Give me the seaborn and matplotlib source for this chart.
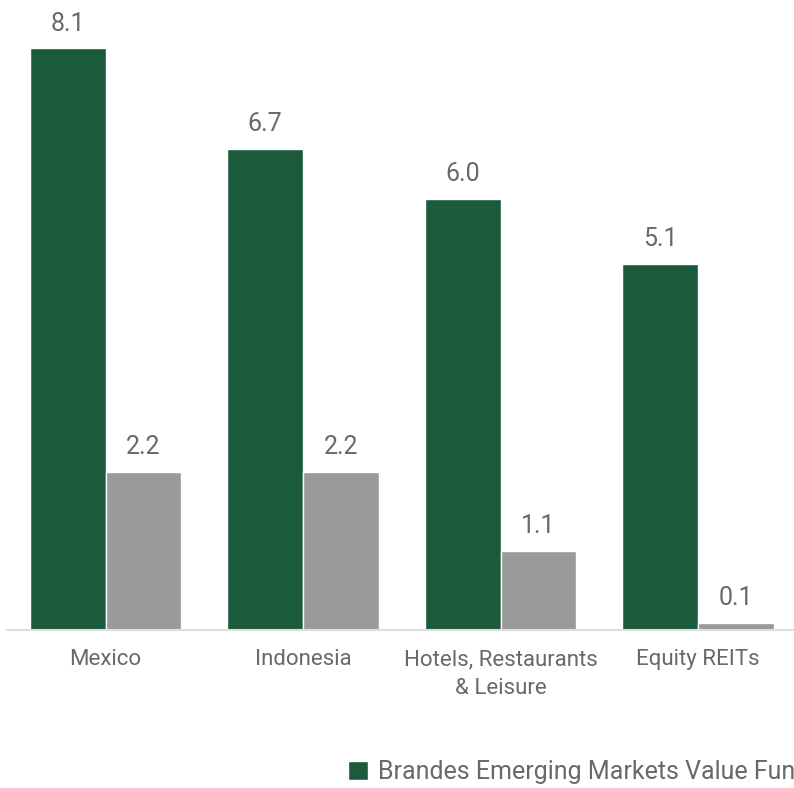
import seaborn as sns
import matplotlib.pyplot as plt
import pandas as pd

categories = ["Mexico", "Indonesia", "Hotels, Restaurants\n& Leisure", "Equity REITs"]
fund_values = [8.1, 6.7, 6.0, 5.1]
index_values = [2.2, 2.2, 1.1, 0.1]
series_names = ["Brandes Emerging Markets Value Fund", "MSCI Emerging Markets Index"]

df = pd.DataFrame({
    "category": categories * 2,
    "value": fund_values + index_values,
    "series": [series_names[0]] * 4 + [series_names[1]] * 4,
})

sns.set_style("white")
plt.rcParams['font.family'] = ['Roboto', 'DejaVu Sans']
text_color = "#68696c"

fig = plt.figure(figsize=(7.94, 7.88), dpi=100)
ax = fig.add_axes([6.75 / 794, 1 - 630 / 788, 790 / 794, 630 / 788])

sns.barplot(data=df, x="category", y="value", hue="series",
            palette=["#1c5a3c", "#9a9a9b"], width=0.765, saturation=1,
            ax=ax, legend=True)

for cont in ax.containers:
    ax.bar_label(cont, fmt="%.1f", padding=9, fontsize=18, color=text_color)

ax.set_ylim(0, 630 / 71.85)
ax.set_xlim(-0.5, 3.5)
ax.set_xlabel("")
ax.set_ylabel("")
ax.set_yticks([])
for s in ["top", "right", "left"]:
    ax.spines[s].set_visible(False)
ax.spines["bottom"].set_color("#dedede")
ax.spines["bottom"].set_linewidth(1.5)
ax.tick_params(axis="x", length=0, pad=14, labelsize=16, labelcolor=text_color)
for lbl in ax.get_xticklabels():
    lbl.set_linespacing(1.5)

handles, labels = ax.get_legend_handles_labels()
ax.legend_.remove()
fig.legend(handles, labels, loc="center left", bbox_to_anchor=(348 / 794, 1 - 772 / 788),
           ncol=2, frameon=False, fontsize=18, labelcolor=text_color, borderpad=0,
           borderaxespad=0, handlelength=0.8, handleheight=0.8, handletextpad=0.4,
           columnspacing=1.5)

fig.savefig("out.png", dpi=100)
